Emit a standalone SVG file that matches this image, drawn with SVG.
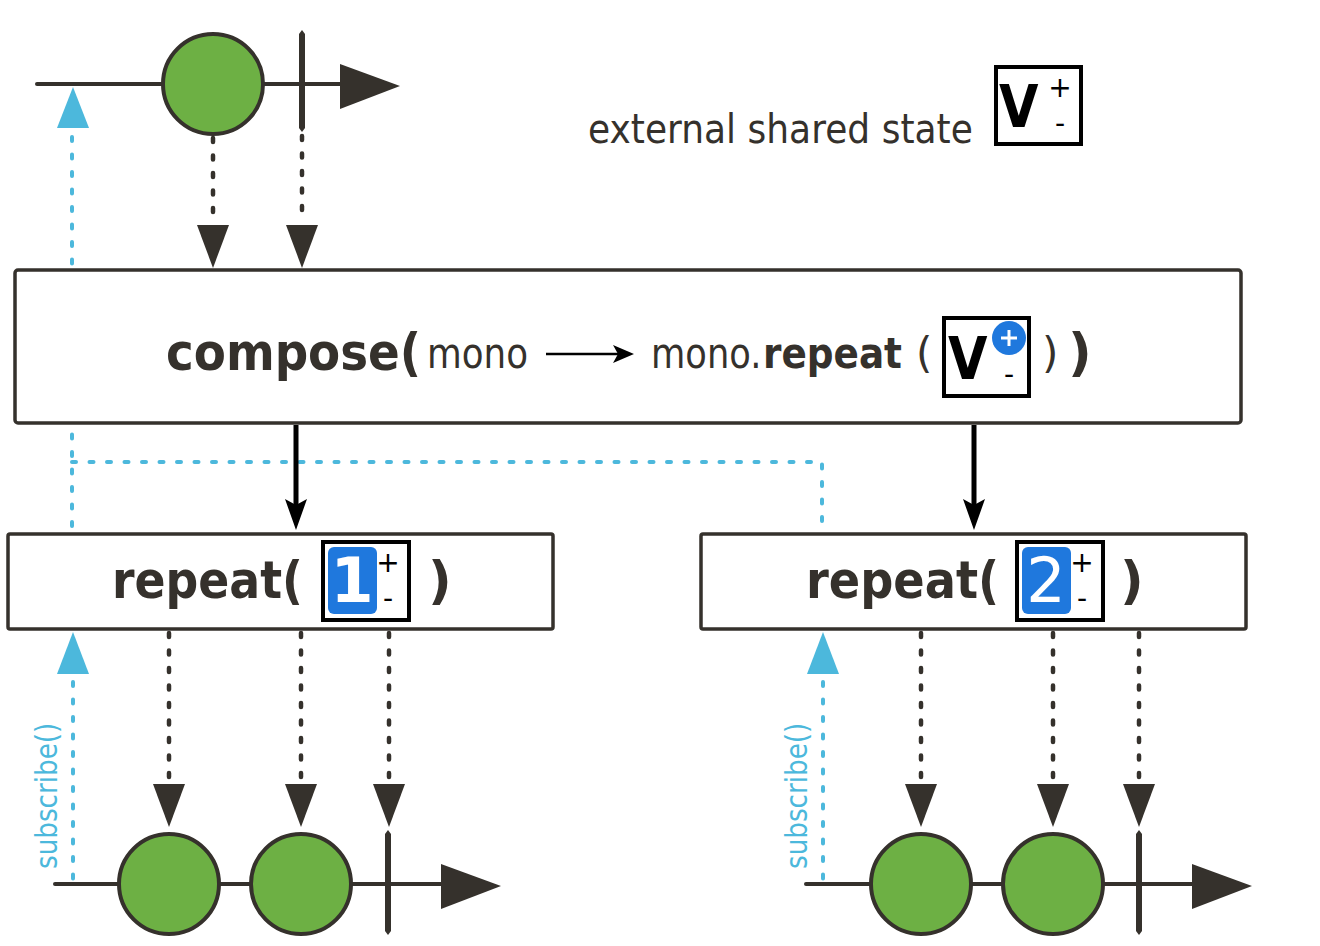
<svg xmlns="http://www.w3.org/2000/svg" width="1320" height="946" viewBox="0 0 1320 946">
<style>
.t{font-family:"DejaVu Sans","Liberation Sans",sans-serif;fill:#35312c}
.b{font-weight:bold}
.box{fill:#fff;stroke:#35312c;stroke-width:3.5}
.vbox{fill:#fff;stroke:#000;stroke-width:4}
.tl{stroke:#35312c;stroke-width:4;stroke-linecap:round;fill:none}
.dk{fill:#35312c}
.mk{fill:#6db044;stroke:#35312c;stroke-width:4}
.dash{stroke:#35312c;stroke-width:4.5;stroke-dasharray:4 13.5;stroke-linecap:round;fill:none}
.bdash{stroke:#4cb8dc;stroke-width:4;stroke-dasharray:4 13.5;stroke-linecap:round;fill:none}
.blue{fill:#4cb8dc}
.sub{font-family:"DejaVu Sans","Liberation Sans",sans-serif;fill:#4cb8dc;font-size:30px}
.pm{font-family:"DejaVu Sans","Liberation Sans",sans-serif;fill:#000;font-size:28px}
.v{font-family:"DejaVu Sans","Liberation Sans",sans-serif;fill:#000;font-size:58px;font-weight:bold}
</style>
<rect width="1320" height="946" fill="#fff"/>
<g id="connectors">
  <path class="bdash" d="M72,137 V532 M72,462 H822 V532"/>
  <polygon class="blue" points="73,87 57,128 89,128"/>
  <path class="bdash" d="M73,682 V880"/>
  <polygon class="blue" points="73,632 57,674 89,674"/>
  <path class="bdash" d="M823,682 V880"/>
  <polygon class="blue" points="823,632 807,674 839,674"/>
  <path class="dash" d="M213,138 V222 M302,136 V222"/>
  <polygon class="dk" points="213,268 197,225 229,225"/>
  <polygon class="dk" points="302,268 286,225 318,225"/>
  <path class="dash" d="M169,633 V780 M301,633 V780 M389,633 V780"/>
  <polygon class="dk" points="169,827 153,784 185,784"/>
  <polygon class="dk" points="301,827 285,784 317,784"/>
  <polygon class="dk" points="389,827 373,784 405,784"/>
  <path class="dash" d="M921,633 V780 M1053,633 V780 M1139,633 V780"/>
  <polygon class="dk" points="921,827 905,784 937,784"/>
  <polygon class="dk" points="1053,827 1037,784 1069,784"/>
  <polygon class="dk" points="1139,827 1123,784 1155,784"/>
  <path d="M296,425 V508 M974,425 V508" stroke="#000" stroke-width="5" fill="none"/>
  <polygon points="296,530 285,499 296,505 307,499" fill="#000"/>
  <polygon points="974,530 963,499 974,505 985,499" fill="#000"/>
</g>
<g id="source-timeline">
  <path class="tl" d="M37,84 H345"/>
  <polygon class="dk" points="340,64 400,86 340,109"/>
  <circle class="mk" cx="213" cy="84" r="50"/>
  <polygon class="dk" points="302,30 305,34 305,128 302,132 299,128 299,34"/>
</g>
<g id="shared-state">
  <text class="t" transform="translate(588,143) scale(0.878,1)" font-size="41">external shared state</text>
  <rect class="vbox" x="996" y="67" width="85" height="77" stroke-width="3.5"/>
  <text class="v" transform="translate(999,127) scale(0.88,1)">V</text>
  <text class="pm" x="1060" y="97" text-anchor="middle">+</text>
  <text class="pm" x="1060" y="133" text-anchor="middle">-</text>
</g>
<g id="compose">
  <rect class="box" x="15" y="270" width="1226" height="153" rx="3"/>
  <text class="t b" transform="translate(166,370) scale(0.9,1)" font-size="52">compose(</text>
  <text class="t" transform="translate(427,368) scale(0.85,1)" font-size="42">mono</text>
  <path d="M546,354 H622" stroke="#000" stroke-width="2.5"/>
  <polygon points="634,354 613,345 618,354 613,363" fill="#000"/>
  <text class="t" transform="translate(651,368) scale(0.84,1)" font-size="42">mono.</text>
  <text class="t b" transform="translate(763,368) scale(0.89,1)" font-size="42">repeat</text>
  <text class="t" x="916" y="368" font-size="42">(</text>
  <rect class="vbox" x="944" y="318" width="85" height="78"/>
  <text class="v" transform="translate(948,379) scale(0.88,1)">V</text>
  <circle cx="1009" cy="338" r="17" fill="#1f78dd"/>
  <path d="M1001,338 H1017 M1009,330 V346" stroke="#fff" stroke-width="3"/>
  <text class="pm" x="1009" y="384" text-anchor="middle">-</text>
  <text class="t" x="1042" y="368" font-size="42">)</text>
  <text class="t b" x="1068" y="370" font-size="52">)</text>
</g>
<g id="repeat-1">
  <rect class="box" x="8" y="534" width="545" height="95" rx="2"/>
  <text class="t b" transform="translate(112,598) scale(0.88,1)" font-size="52">repeat(</text>
  <rect class="vbox" x="323" y="542" width="86" height="78" stroke-width="3.5"/>
  <rect x="328" y="547" width="49" height="67" rx="6" fill="#1f78dd"/>
  <text class="t b" x="352" y="602" font-size="62" text-anchor="middle" style="fill:#fff">1</text>
  <text class="pm" x="388" y="572" text-anchor="middle">+</text>
  <text class="pm" x="388" y="608" text-anchor="middle">-</text>
  <text class="t b" x="428" y="598" font-size="52">)</text>
</g>
<g id="repeat-2">
  <rect class="box" x="701" y="534" width="545" height="95" rx="2"/>
  <text class="t b" transform="translate(806,598) scale(0.89,1)" font-size="52">repeat(</text>
  <rect class="vbox" x="1017" y="542" width="86" height="78" stroke-width="3.5"/>
  <rect x="1022" y="547" width="49" height="67" rx="6" fill="#1f78dd"/>
  <text class="t" x="1046" y="602" font-size="62" text-anchor="middle" style="fill:#fff">2</text>
  <text class="pm" x="1082" y="572" text-anchor="middle">+</text>
  <text class="pm" x="1082" y="608" text-anchor="middle">-</text>
  <text class="t b" x="1120" y="598" font-size="52">)</text>
</g>
<g id="result-1">
  <path class="tl" d="M55,884 H445"/>
  <polygon class="dk" points="441,864 501,886 441,909"/>
  <circle class="mk" cx="169" cy="884" r="50"/>
  <circle class="mk" cx="301" cy="884" r="50"/>
  <polygon class="dk" points="388,830 391,834 391,931 388,935 385,931 385,834"/>
  <text class="sub" transform="translate(57,869) rotate(-90) scale(0.874,1)">subscribe()</text>
</g>
<g id="result-2">
  <path class="tl" d="M806,884 H1196"/>
  <polygon class="dk" points="1192,864 1252,886 1192,909"/>
  <circle class="mk" cx="921" cy="884" r="50"/>
  <circle class="mk" cx="1053" cy="884" r="50"/>
  <polygon class="dk" points="1139,830 1142,834 1142,931 1139,935 1136,931 1136,834"/>
  <text class="sub" transform="translate(807,869) rotate(-90) scale(0.874,1)">subscribe()</text>
</g>
</svg>
